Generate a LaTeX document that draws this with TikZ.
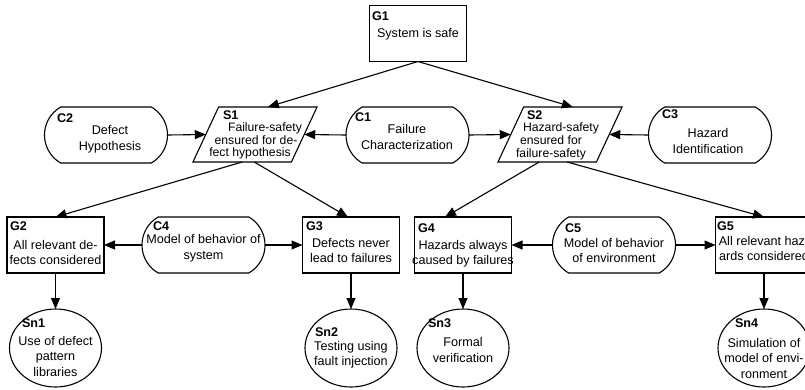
\documentclass[tikz,border=0pt]{standalone}
\usepackage{fontspec}
\setmainfont{Liberation Sans}
\usetikzlibrary{shapes.geometric,shapes.misc,arrows.meta}
\begin{document}
\begin{tikzpicture}[x=1pt,y=-1pt,
  every node/.style={inner sep=0pt, outer sep=0pt},
  goalbox/.style={draw, rectangle, line width=1.1pt, minimum width=97pt, minimum height=56pt},
  ctxbox/.style={draw, rounded rectangle, rounded rectangle arc length=120, line width=1.1pt, minimum width=123pt, minimum height=56pt},
  strbox/.style={draw, trapezium, trapezium left angle=65, trapezium right angle=115, inner sep=0pt, line width=1.1pt},
  solbox/.style={draw, ellipse, line width=1.1pt, minimum width=92pt, minimum height=78pt},
  idtext/.style={font=\fontsize{12.6}{15}\selectfont\bfseries, anchor=west},
  bodytext/.style={font=\fontsize{12.6}{15.5}\selectfont, align=center},
  strtext/.style={font=\fontsize{12.2}{12.8}\selectfont, align=center},
  arr/.style={-{Triangle[length=11pt,width=9pt]}, line width=1.1pt},
]
\useasboundingbox (0,0) rectangle (805,389);
\clip (0,0) rectangle (805,389);

% shapes
\node[goalbox] (G1) at (418,33.5) {};
\node[strbox] (S1) at (255,134.5) {\rule{0pt}{55pt}\hspace*{72.8pt}};
\node[strbox] (S2) at (560,134.5) {\rule{0pt}{55pt}\hspace*{72.8pt}};
\node[ctxbox] (C2) at (106,135) {};
\node[ctxbox] (C1) at (407.5,135) {};
\node[ctxbox] (C3) at (710,135) {};
\node[goalbox] (G2) at (55.5,245) {};
\node[ctxbox] (C4) at (203.5,245) {};
\node[goalbox] (G3) at (351,245) {};
\node[goalbox] (G4) at (463,245) {};
\node[ctxbox] (C5) at (614,245) {};
\node[goalbox] (G5) at (764,245) {};
\node[solbox] (Sn1) at (55.5,348) {};
\node[solbox] (Sn2) at (351,348) {};
\node[solbox] (Sn3) at (463,348) {};
\node[solbox] (Sn4) at (764,348) {};

% texts
\node[idtext] (G1id) at (372,16) {G1};
\node[bodytext] (G1tx) at (418,34) {System is safe};
\node[idtext] (C2id) at (57,118) {C2};
\node[bodytext] (C2tx) at (110,139) {Defect\\Hypothesis};
\node[idtext] (S1id) at (223,115) {S1};
\node[strtext] (S1tx) at (250,141) {\hspace*{30pt}Failure-safety\\\hspace*{12pt}ensured for de-\\fect hypothesis};
\node[idtext] (C1id) at (355,117) {C1};
\node[bodytext] (C1tx) at (407,137) {Failure\\Characterization};
\node[idtext] (S2id) at (527,115) {S2};
\node[strtext] (S2tx) at (551,141.5) {\hspace*{20pt}Hazard-safety\\ensured for\\failure-safety};
\node[idtext] (C3id) at (662,114) {C3};
\node[bodytext] (C3tx) at (708,141) {Hazard\\Identification};
\node[idtext] (G2id) at (10,226) {G2};
\node[bodytext] (G2tx) at (55.5,252.5) {All relevant de-\\fects considered};
\node[idtext] (C4id) at (153,226) {C4};
\node[bodytext] (C4tx) at (203.5,248) {Model of behavior of\\system};
\node[idtext] (G3id) at (306,226) {G3};
\node[bodytext] (G3tx) at (351,250.5) {Defects never\\lead to failures};
\node[idtext] (G4id) at (418,228) {G4};
\node[bodytext] (G4tx) at (463,253.5) {Hazards always\\caused by failures};
\node[idtext] (C5id) at (565,228) {C5};
\node[bodytext] (C5tx) at (614,250.5) {Model of behavior\\of environment};
\node[idtext] (G5id) at (717,226) {G5};
\node[bodytext] (G5tx) at (764,248.5) {All relevant haz-\\ards considered};
\node[idtext] (Sn1id) at (22,323) {Sn1};
\node[bodytext] (Sn1tx) at (55.5,356) {Use of defect\\pattern\\libraries};
\node[idtext] (Sn2id) at (315,332) {Sn2};
\node[bodytext] (Sn2tx) at (351,354.5) {Testing using\\fault injection};
\node[idtext] (Sn3id) at (428,323) {Sn3};
\node[bodytext] (Sn3tx) at (463,350) {Formal\\verification};
\node[idtext] (Sn4id) at (735,323) {Sn4};
\node[bodytext] (Sn4tx) at (764,358) {Simulation of\\model of envi-\\ronment};

% connectors
\draw[arr] (G1.south) -- (S1.top side);
\draw[arr] (G1.south) -- (S2.top side);
\draw[arr] (C2.east) -- (S1.left side);
\draw[arr] (C1.west) -- (S1.right side);
\draw[arr] (C1.east) -- (S2.left side);
\draw[arr] (C3.west) -- (S2.right side);
\draw[arr] (S1.bottom side) -- (G2.north);
\draw[arr] ([xshift=12pt]S1.bottom side) -- ([xshift=-3pt]G3.north);
\draw[arr] ([xshift=-8pt]S2.bottom side) -- ([xshift=-18pt]G4.north);
\draw[arr] ([xshift=20pt]S2.bottom side) -- (G5.north);
\draw[arr] (C4.west) -- (G2.east);
\draw[arr] (C4.east) -- (G3.west);
\draw[arr] (C5.west) -- (G4.east);
\draw[arr] (C5.east) -- (G5.west);
\draw[arr] (G2.south) -- (Sn1.north);
\draw[arr] (G3.south) -- (Sn2.north);
\draw[arr] (G4.south) -- (Sn3.north);
\draw[arr] (G5.south) -- (Sn4.north);
\end{tikzpicture}
\end{document}
